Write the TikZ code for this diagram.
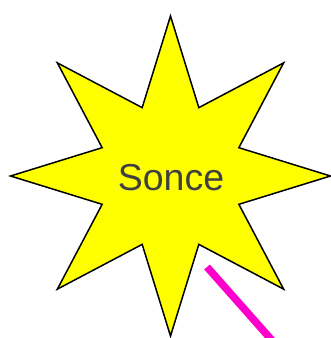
\documentclass[tikz,border=0pt]{standalone}
\usepackage{fontspec}
\setmainfont{Liberation Sans}
\definecolor{starfill}{RGB}{255,255,0}
\definecolor{labelgray}{RGB}{64,64,64}
\definecolor{wand}{RGB}{255,0,204}
\tikzset{
  starstyle/.style={draw=black, fill=starfill, line width=1.5pt, line join=miter},
  labelstyle/.style={text=labelgray, font=\fontsize{37.5}{40}\selectfont, inner sep=0pt},
  wandstyle/.style={draw=wand, line width=7.5pt, line cap=butt}
}
\begin{document}
\begin{tikzpicture}[x=1pt,y=-1pt]
\useasboundingbox (0,0) rectangle (331,338);
\clip (0,0) rectangle (331,338);
\coordinate (c) at (170.5,176);
\draw[starstyle] ([shift={(90:160)}]c)
  \foreach \k in {0,...,7} {
    -- ([shift={(90+22.5+45*\k:74)}]c)
    -- ([shift={(90+45+45*\k:160)}]c)
  } -- cycle;
\node[labelstyle] (sonce) at (171,178) {Sonce};
\coordinate (wandA) at (207,267);
\coordinate (wandB) at (277,346);
\draw[wandstyle] (wandA) -- (wandB);
\end{tikzpicture}
\end{document}
